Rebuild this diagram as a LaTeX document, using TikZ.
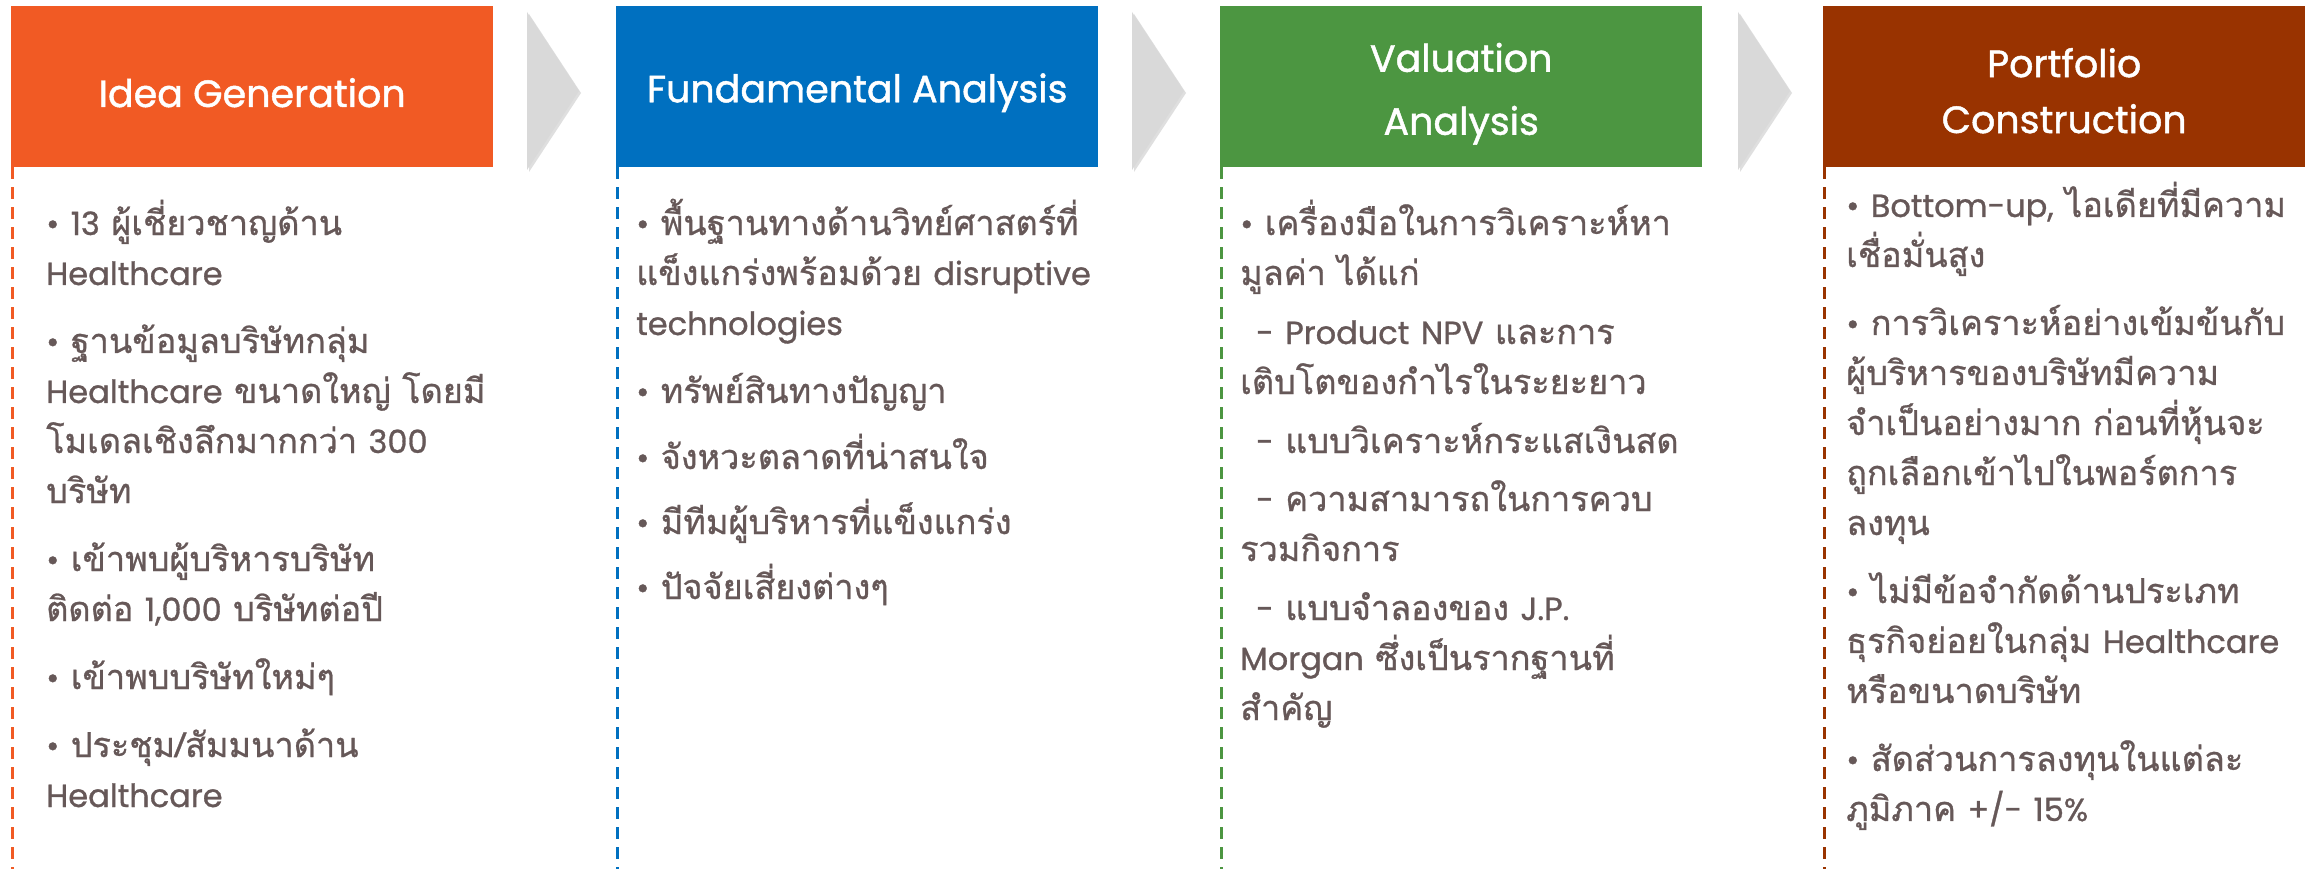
\documentclass[tikz,border=0pt]{standalone}
\usepackage{fontspec}
\setmainfont{Loma}[Script=Thai, Scale=1.07, FakeBold=0.8]
\newfontfamily\lat{Poppins}[FakeBold=0.9]
\newfontfamily\lathead{Poppins}[FakeBold=1.2]
\usetikzlibrary{shadows}
\definecolor{cOrange}{HTML}{F15A24}
\definecolor{cBlue}{HTML}{0070C0}
\definecolor{cGreen}{HTML}{4C9641}
\definecolor{cBrown}{HTML}{993300}
\definecolor{cText}{HTML}{665858}
\definecolor{cArrow}{HTML}{D9D9D9}
\newcommand{\en}[1]{{\lat #1}}
\newcommand{\bul}{{\lat\textbullet}\ }
\newcommand{\ind}{\hspace*{16pt}}
\tikzset{
  hdr/.style={anchor=north west, minimum width=482pt, minimum height=161pt,
    inner sep=0pt},
  title/.style={anchor=center, inner sep=0pt, text=white, align=center,
    font=\lathead\fontsize{38pt}{56pt}\selectfont},
  body/.style={anchor=base west, inner sep=0pt, text=cText, text width=560pt,
    align=left, font=\fontsize{32pt}{50pt}\selectfont},
  chevron/.style={fill=cArrow, drop shadow={opacity=0.25, shadow xshift=2pt, shadow yshift=-2pt}},
  dashline/.style={line width=3pt, dash pattern=on 12pt off 8pt}
}
\begin{document}
\begin{tikzpicture}[x=1pt,y=-1pt]
\useasboundingbox (0,0) rectangle (2315,869);
\fill[white] (0,0) rectangle (2315,869);
% headers
\node[hdr, fill=cOrange] (h1) at (11,6) {};
\node[hdr, fill=cBlue] (h2) at (616,6) {};
\node[hdr, fill=cGreen] (h3) at (1220,6) {};
\node[hdr, fill=cBrown] (h4) at (1823,6) {};
\node[title] (t1) at ([yshift=-6pt]h1.center) {Idea Generation};
\node[title] (t2) at ([yshift=-6pt]h2.center) {Fundamental Analysis};
\node[title] (t3) at ([yshift=-7pt]h3.center) {Valuation\\[7pt]Analysis};
\node[title] (t4) at ([yshift=-4pt]h4.center) {Portfolio\\Construction};
% chevrons
\fill[chevron] (527,12) -- (579,91) -- (527,170) -- cycle;
\fill[chevron] (1132,12) -- (1184,91) -- (1132,170) -- cycle;
\fill[chevron] (1738,12) -- (1790,91) -- (1738,170) -- cycle;
% dashed lines
\coordinate (e1) at (12.5,869);
\coordinate (e2) at (617.5,869);
\coordinate (e3) at (1221.5,869);
\coordinate (e4) at (1824.5,869);
\draw[dashline, cOrange] ([xshift=1.5pt]h1.south west) -- (e1);
\draw[dashline, cBlue] ([xshift=1.5pt]h2.south west) -- (e2);
\draw[dashline, cGreen] ([xshift=1.5pt]h3.south west) -- (e3);
\draw[dashline, cBrown] ([xshift=1.5pt]h4.south west) -- (e4);
% bodies
\node[body] (b1) at (46,235) {%
\bul\en{13} ผู้เชี่ยวชาญด้าน\\
\en{Healthcare}\\[18pt]
\bul ฐานข้อมูลบริษัทกลุ่ม\\
\en{Healthcare} ขนาดใหญ่ โดยมี\\
โมเดลเชิงลึกมากกว่า \en{300}\\
บริษัท\\[18pt]
\bul เข้าพบผู้บริหารบริษัท\\
ติดต่อ \en{1,000} บริษัทต่อปี\\[18pt]
\bul เข้าพบบริษัทใหม่ๆ\\[18pt]
\bul ประชุม/สัมมนาด้าน\\
\en{Healthcare}};
\node[body] (b2) at (636,235) {%
\bul พื้นฐานทางด้านวิทย์ศาสตร์ที่\\
แข็งแกร่งพร้อมด้วย \en{disruptive}\\
\en{technologies}\\[18pt]
\bul ทรัพย์สินทางปัญญา\\[16pt]
\bul จังหวะตลาดที่น่าสนใจ\\[15pt]
\bul มีทีมผู้บริหารที่แข็งแกร่ง\\[15pt]
\bul ปัจจัยเสี่ยงต่างๆ};
\node[body] (b3) at (1240,235) {%
\bul เครื่องมือในการวิเคราะห์หา\\
มูลค่า ได้แก่\\[9pt]
\ind\en{- Product NPV} และการ\\
เติบโตของกำไรในระยะยาว\\[9pt]
\ind\en{-} แบบวิเคราะห์กระแสเงินสด\\[8pt]
\ind\en{-} ความสามารถในการควบ\\
รวมกิจการ\\[9pt]
\ind\en{-} แบบจำลองของ \en{J.P.}\\
\en{Morgan} ซึ่งเป็นรากฐานที่\\
สำคัญ};
\node[body] (b4) at (1846,217) {%
\bul\en{Bottom-up,} ไอเดียที่มีความ\\
เชื่อมั่นสูง\\[18pt]
\bul การวิเคราะห์อย่างเข้มข้นกับ\\
ผู้บริหารของบริษัทมีความ\\
จำเป็นอย่างมาก ก่อนที่หุ้นจะ\\
ถูกเลือกเข้าไปในพอร์ตการ\\
ลงทุน\\[18pt]
\bul ไม่มีข้อจำกัดด้านประเภท\\
ธุรกิจย่อยในกลุ่ม \en{Healthcare}\\
หรือขนาดบริษัท\\[18pt]
\bul สัดส่วนการลงทุนในแต่ละ\\
ภูมิภาค \en{+/- 15\%}};
\end{tikzpicture}
\end{document}
